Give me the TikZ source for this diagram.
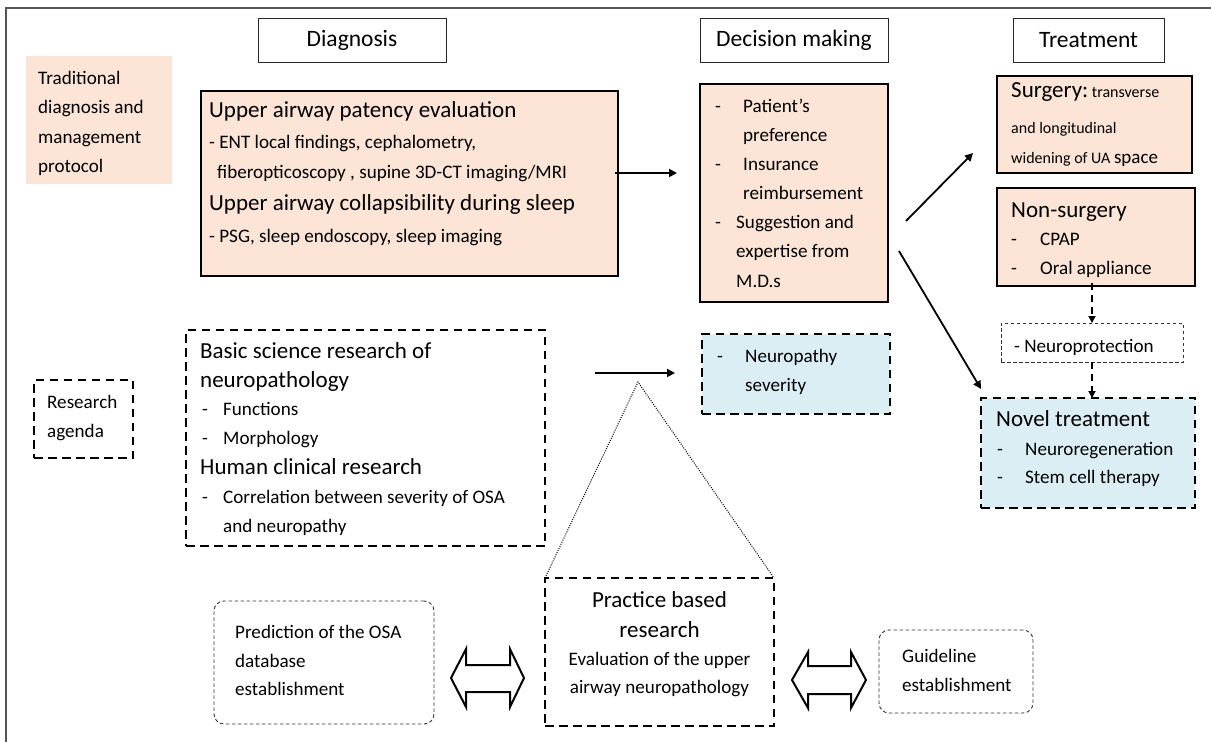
\documentclass[tikz,border=0pt]{standalone}
\usepackage{fontspec}
\setmainfont{Carlito}
\usetikzlibrary{arrows.meta,fit}
\definecolor{peach}{RGB}{252,228,214}
\definecolor{lblue}{RGB}{218,238,243}
\definecolor{framegray}{RGB}{85,85,85}
\tikzset{
  fbox/.style={inner sep=0pt, outer sep=0pt},
  hdr/.style={fbox, draw=black!85, line width=1pt, font=\fontsize{23.5}{28}\selectfont},
  solidbox/.style={fbox, draw=black, line width=2.2pt, fill=peach},
  dbox/.style={fbox, draw=black, line width=2.2pt, dash pattern=on 8.5pt off 5.5pt},
  tbox/.style={fbox, draw=black!80, line width=0.9pt, dash pattern=on 3.5pt off 2.5pt},
  tx/.style={anchor=base west, inner sep=0pt, font=\fontsize{19.1}{23}\selectfont},
  tt/.style={anchor=base west, inner sep=0pt, font=\fontsize{23}{27}\selectfont},
  txc/.style={anchor=base, inner sep=0pt, font=\fontsize{19.1}{23}\selectfont},
  ttc/.style={anchor=base, inner sep=0pt, font=\fontsize{23}{27}\selectfont},
  arr/.style={line width=1.8pt, -{Triangle[length=8pt,width=8pt]}},
  darr/.style={line width=1.8pt, dash pattern=on 7pt off 5pt, -{Triangle[length=7pt,width=7pt]}},
  dblarr/.style={draw=black, line width=2pt, fill=white, line join=miter},
}
\begin{document}
\begin{tikzpicture}[x=1pt,y=-1pt]
\useasboundingbox (0,0) rectangle (1211,742);
% frame
\draw[framegray, line width=1.3pt] (6,742) -- (6,8) -- (1211,8);

% headers
\node[hdr, fit={(258,18) (446,62)}] (diag) {};
\node[font=\fontsize{23.5}{28}\selectfont] (diagt) at (diag.center) {Diagnosis};
\node[hdr, fit={(700,18) (888,62)}] (decm) {};
\node[font=\fontsize{23.5}{28}\selectfont] (decmt) at (decm.center) {Decision making};
\node[hdr, fit={(1013,18) (1164,62)}] (treat) {};
\node[font=\fontsize{23.5}{28}\selectfont] (treatt) at (treat.center) {Treatment};

% traditional
\node[fbox, fill=peach, fit={(26,56) (172,184)}] (trad) {};
\node[tx] (tr1) at (38,84) {Traditional};
\node[tx] (tr2) at (38,113) {diagnosis and};
\node[tx] (tr3) at (38,143) {management};
\node[tx] (tr4) at (38,172) {protocol};

% upper airway box
\node[solidbox, fit={(201,91) (618,276)}] (up) {};
\node[tt] (u1) at (209,117) {Upper airway patency evaluation};
\node[tx] (u2) at (209,148) {- ENT local findings, cephalometry,};
\node[tx] (u3) at (217,178) {fiberopticoscopy , supine 3D-CT imaging/MRI};
\node[tt] (u4) at (209,210) {Upper airway collapsibility during sleep};
\node[tx] (u5) at (209,242) {- PSG, sleep endoscopy, sleep imaging};

% decision box
\node[solidbox, fit={(700,84) (888,302)}] (dec) {};
\node[tx] (dd1) at (715,112) {-};
\node[tx] (dc1) at (743,112) {Patient’s};
\node[tx] (dc2) at (743,141) {preference};
\node[tx] (dd2) at (715,170) {-};
\node[tx] (dc3) at (743,170) {Insurance};
\node[tx] (dc4) at (743,199) {reimbursement};
\node[tx] (dd3) at (715,228) {-};
\node[tx] (dc5) at (736,228) {Suggestion and};
\node[tx] (dc6) at (736,257) {expertise from};
\node[tx] (dc7) at (736,287) {M.D.s};

% surgery
\node[solidbox, fit={(997,76) (1192,173)}] (surg) {};
\node[tt] (s1) at (1011,97) {Surgery:{\fontsize{16}{19}\selectfont\ transverse}};
\node[tx, font=\fontsize{16}{19}\selectfont] (s2) at (1011,133) {and longitudinal};
\node[tx, font=\fontsize{16}{19}\selectfont] (s3) at (1011,163) {widening of UA {\fontsize{19}{23}\selectfont space}};

% non-surgery
\node[solidbox, fit={(997,188) (1195,286)}] (nons) {};
\node[tt] (n1) at (1011,217) {Non-surgery};
\node[tx] (nd1) at (1011,245) {-};
\node[tx] (n2) at (1040,245) {CPAP};
\node[tx] (nd2) at (1011,274) {-};
\node[tx] (n3) at (1040,274) {Oral appliance};

% neuroprotection
\node[tbox, fit={(1001,323) (1183,362)}] (nprot) {};
\node[tx] (np1) at (1014,352) {- Neuroprotection};

% novel treatment
\node[dbox, fill=lblue, fit={(981,398) (1195,508)}] (novel) {};
\node[tt] (nv1) at (996,426) {Novel treatment};
\node[tx] (nvd1) at (997,455) {-};
\node[tx] (nv2) at (1025,455) {Neuroregeneration};
\node[tx] (nvd2) at (997,483) {-};
\node[tx] (nv3) at (1025,483) {Stem cell therapy};

% neuropathy severity
\node[dbox, fill=lblue, fit={(702,334) (890,414)}] (neuro) {};
\node[tx] (ned) at (717,362) {-};
\node[tx] (ne1) at (745,362) {Neuropathy};
\node[tx] (ne2) at (745,391) {severity};

% research agenda
\node[dbox, fit={(34,380) (133,458)}] (agenda) {};
\node[tx] (ag1) at (47,408) {Research};
\node[tx] (ag2) at (47,437) {agenda};

% basic science
\node[dbox, fit={(186,330) (545,546)}] (basic) {};
\node[tt] (b1) at (200,358) {Basic science research of};
\node[tt] (b2) at (200,387) {neuropathology};
\node[tx] (bd1) at (202,415) {-};
\node[tx] (b3) at (223,415) {Functions};
\node[tx] (bd2) at (202,444) {-};
\node[tx] (b4) at (223,444) {Morphology};
\node[tt] (b5) at (200,474) {Human clinical research};
\node[tx] (bd3) at (202,503) {-};
\node[tx] (b6) at (223,503) {Correlation between severity of OSA};
\node[tx] (b7) at (223,532) {and neuropathy};

% practice based research
\node[dbox, fit={(545,578) (774,726)}] (prac) {};
\node[ttc] (p1) at (659.5,607) {Practice based};
\node[ttc] (p2) at (659.5,637) {research};
\node[txc] (p3) at (659.5,665) {Evaluation of the upper};
\node[txc] (p4) at (659.5,693) {airway neuropathology};

% prediction
\node[tbox, rounded corners=10pt, fit={(214,601) (434,724)}] (pred) {};
\node[tx] (pr1) at (235,638) {Prediction of the OSA};
\node[tx] (pr2) at (235,667) {database};
\node[tx] (pr3) at (235,695) {establishment};

% guideline
\node[tbox, rounded corners=10pt, fit={(879,630) (1033,713)}] (guide) {};
\node[tx] (g1) at (902,662) {Guideline};
\node[tx] (g2) at (902,691) {establishment};

% connector end points
\coordinate (a1s) at (615,173);
\coordinate (a1e) at (677,173);
\coordinate (a2s) at (906,221);
\coordinate (a2e) at (973,153);
\coordinate (a3s) at (899,251);
\coordinate (a3e) at (981,389);
\coordinate (a6s) at (595,373);
\coordinate (a6e) at (675,373);
\coordinate (apex) at (638,382);

\draw[arr] (a1s) -- (a1e);
\draw[arr] (a2s) -- (a2e);
\draw[arr] (a3s) -- (a3e);
\draw[arr] (a6s) -- (a6e);
\draw[darr] ([yshift=3pt]nons.south -| nprot.center) -- (nprot.north);
\draw[darr] (nprot.south) -- (novel.north -| nprot.center);

% dotted triangle
\draw[line width=1pt, dash pattern=on 1pt off 1.3pt] (prac.north west) -- (apex) -- (prac.north east);

% double arrows
\draw[dblarr] (451,678) -- (466,649) -- (466,665) -- (510,665) -- (510,649) -- (524,678)
  -- (510,707) -- (510,692) -- (466,692) -- (466,707) -- cycle;
\draw[dblarr] (792,680) -- (808,652) -- (808,666) -- (851,666) -- (851,652) -- (866,680)
  -- (851,708) -- (851,694) -- (808,694) -- (808,708) -- cycle;
\end{tikzpicture}
\end{document}
